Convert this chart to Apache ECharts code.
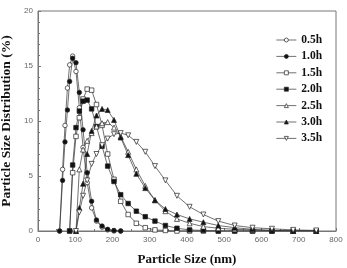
<!DOCTYPE html>
<html>
<head>
<meta charset="utf-8">
<script src="https://cdn.jsdelivr.net/npm/echarts@6/dist/echarts.min.js"></script>
<style>
  html, body { margin: 0; padding: 0; background: #fff; }
  #chart { width: 347px; height: 268px; }
</style>
</head>
<body>
<div id="chart"></div>
<script>
// particle size bins (nm)
const sizes = [58, 66, 72.5, 79, 85, 93, 102, 111, 121, 132, 144, 157, 172, 187, 204, 222, 242, 264, 288, 314, 342, 373, 407, 444, 484, 528, 576, 628, 685, 747];

const seriesNames = ['0.5h', '1.0h', '1.5h', '2.0h', '2.5h', '3.0h', '3.5h'];

const dist05 = [0, 5.6, 9.6, 13.0, 15.1, 15.9, 14.5, 11.2, 7.6, 4.4, 2.1, 0.9, 0.35, 0.1, 0, 0];
const dist10 = [0, 4.6, 8.1, 11.0, 13.6, 15.7, 15.3, 12.6, 9.2, 5.3, 2.7, 1.0, 0.45, 0.15, 0.05, 0];
const dist15 = [null, null, null, null, 0, 5.3, 8.6, 10.3, 12.0, 12.9, 12.8, 11.5, 9.6, 7.0, 4.7, 2.7, 1.5, 0.7, 0.3, 0.1, 0.05, 0, 0, 0, 0, 0, 0, 0, 0, 0];
const dist20 = [null, null, null, null, 0, 6.0, 9.4, 10.9, 11.8, 11.9, 11.1, 9.5, 7.7, 5.9, 4.5, 3.3, 2.5, 1.8, 1.3, 0.9, 0.5, 0.25, 0.1, 0.05, 0, 0, 0, 0, 0, 0];
const dist25 = [null, null, null, null, null, null, 0, 5.6, 7.4, 8.2, 8.9, 9.5, 9.8, 9.9, 9.4, 8.6, 7.2, 5.6, 4.1, 2.8, 1.8, 1.1, 0.7, 0.4, 0.25, 0.15, 0.1, 0.05, 0, 0];
const dist30 = [null, null, null, null, null, null, 0, 2.1, 4.3, 7.0, 9.1, 10.5, 11.1, 11.0, 10.1, 8.5, 6.9, 5.2, 3.9, 2.8, 2.0, 1.5, 1.1, 0.8, 0.5, 0.3, 0.15, 0.05, 0, 0];
const dist35 = [null, null, null, null, null, null, 0, 1.7, 3.2, 4.6, 6.1, 7.0, 7.8, 8.4, 8.8, 8.9, 8.7, 8.1, 7.2, 5.9, 4.6, 3.2, 2.2, 1.5, 0.9, 0.5, 0.3, 0.2, 0.1, 0.05];

const allDist = [dist05, dist10, dist15, dist20, dist25, dist30, dist35];
const symbols = ['circle', 'circle', 'rect', 'rect', 'triangle', 'triangle', 'triangle'];
const filled = [false, true, false, true, false, true, false];
const rotations = [0, 0, 0, 0, 0, 0, 180];

const serif = '"Liberation Serif", "DejaVu Serif", serif';
const sans = '"Liberation Sans", Arial, sans-serif';

const chart = echarts.init(document.getElementById('chart'));

const markStyle = (i) => ({ color: filled[i] ? '#111' : '#fff', borderColor: '#222', borderWidth: 0.7 });

const series = seriesNames.map((name, i) => ({
  name,
  type: 'line',
  data: sizes.map((s, k) => [s, allDist[i][k] === undefined ? null : allDist[i][k]]).filter(d => d[1] !== null),
  symbol: symbols[i],
  symbolRotate: rotations[i],
  symbolSize: symbols[i] === 'triangle' ? 5 : 4.5,
  lineStyle: { color: '#333', width: 0.7 },
  itemStyle: markStyle(i),
  emphasis: { disabled: true },
  animation: false
}));

chart.setOption({
  backgroundColor: '#fff',
  animation: false,
  grid: { left: 38, right: 11, top: 11, bottom: 37, show: true, borderColor: '#777', borderWidth: 1, containLabel: false, outerBoundsMode: 'none' },
  legend: {
    orient: 'vertical',
    left: 271,
    top: 29,
    itemWidth: 20,
    itemHeight: 5,
    itemGap: 4.4,
    data: seriesNames.map((name, i) => ({ name, itemStyle: markStyle(i) })),
    lineStyle: { width: 0.7, color: '#333' },
    textStyle: { fontFamily: serif, fontWeight: 'bold', fontSize: 11.5, color: '#111', lineHeight: 5, padding: [0, 0, 0, 0] }
  },
  xAxis: {
    type: 'value',
    min: 0,
    max: 800,
    interval: 100,
    name: 'Particle Size (nm)',
    nameLocation: 'middle',
    nameGap: 22,
    nameTextStyle: { fontFamily: serif, fontWeight: 'bold', fontSize: 13, color: '#111' },
    axisLine: { lineStyle: { color: '#777', width: 1 } },
    axisTick: { inside: true, length: 3, lineStyle: { color: '#777' } },
    minorTick: { show: true, splitNumber: 2, length: 2, lineStyle: { color: '#777' } },
    axisLabel: { fontFamily: sans, fontSize: 8, color: '#666', margin: 5 },
    splitLine: { show: false }
  },
  yAxis: {
    type: 'value',
    min: 0,
    max: 20,
    interval: 5,
    name: 'Particle Size Distribution (%)',
    nameLocation: 'middle',
    nameGap: 21,
    nameTextStyle: { fontFamily: serif, fontWeight: 'bold', fontSize: 13.5, color: '#111' },
    axisLine: { lineStyle: { color: '#777', width: 1 } },
    axisTick: { inside: true, length: 3, lineStyle: { color: '#777' } },
    minorTick: { show: true, splitNumber: 5, length: 2, lineStyle: { color: '#777' } },
    axisLabel: { fontFamily: sans, fontSize: 8, color: '#666', margin: 5 },
    splitLine: { show: false }
  },
  series
});
</script>
</body>
</html>
